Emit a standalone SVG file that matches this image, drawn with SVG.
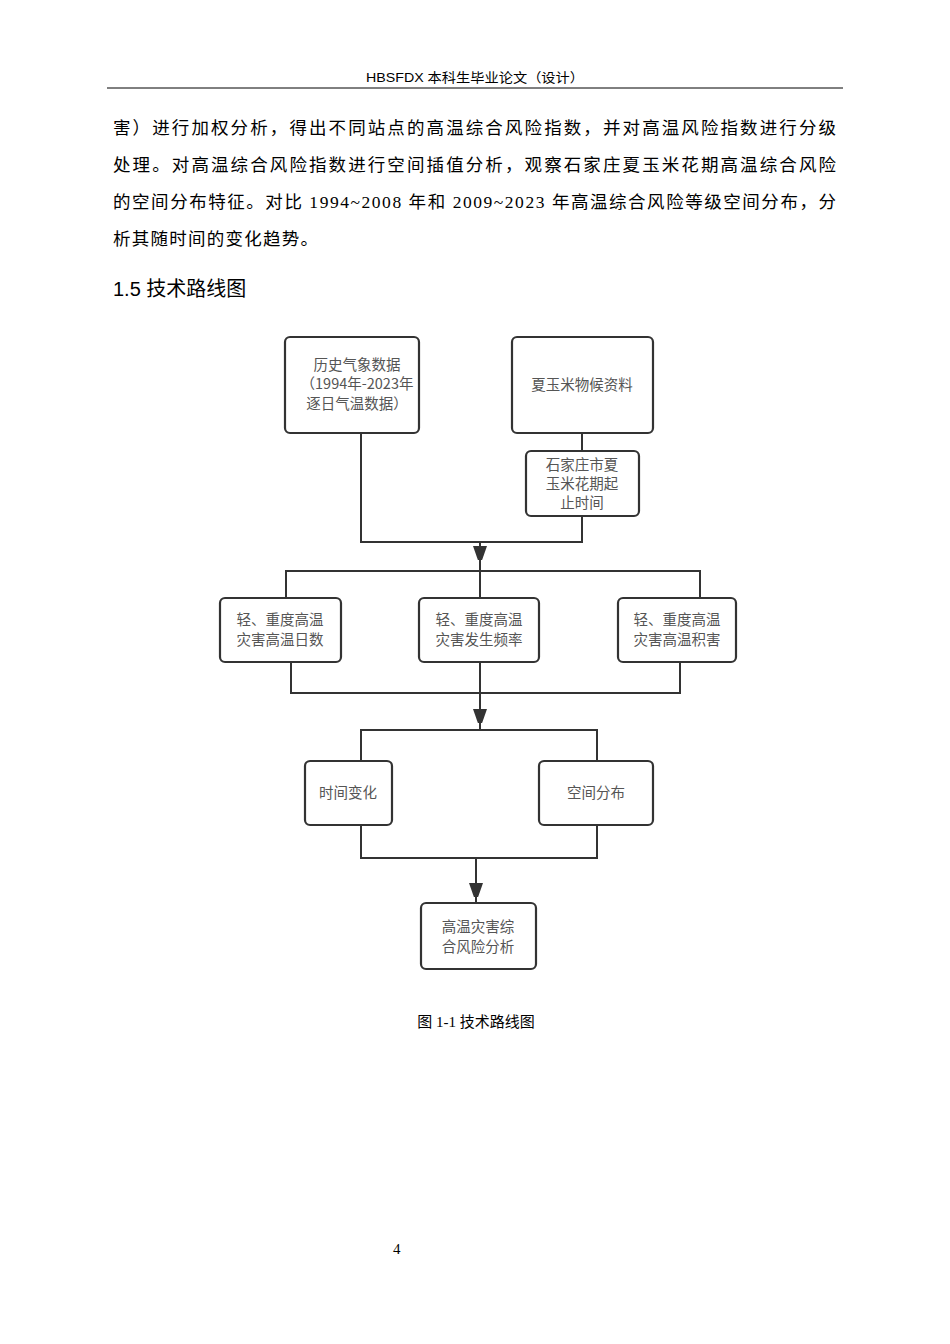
<svg xmlns="http://www.w3.org/2000/svg" width="950" height="1344" viewBox="0 0 950 1344">
<style>
.b{fill:#fff;stroke:#333;stroke-width:2.2}
.t{font-family:"Noto Sans CJK SC",sans-serif;font-size:14.5px;fill:#555;text-anchor:middle}
.p{font-family:"Liberation Serif","Noto Sans CJK SC",serif;font-size:17.5px;fill:#000}
.c{fill:none;stroke:#333;stroke-width:2}
</style>
<defs><marker id="a" markerWidth="14" markerHeight="20" refX="20" refY="7" orient="auto" markerUnits="userSpaceOnUse"><path d="M0,0 L20,7 L0,14 z" fill="#333"/></marker></defs>
<rect width="950" height="1344" fill="#fff"/>
<text x="475" y="82" text-anchor="middle" font-family="'Liberation Sans','Noto Sans CJK SC',sans-serif" font-size="13" textLength="218" lengthAdjust="spacingAndGlyphs">HBSFDX 本科生毕业论文（设计）</text>
<line x1="107" y1="88" x2="843" y2="88" stroke="#000" stroke-width="1"/>
<text class="p" x="113" y="134" textLength="723" lengthAdjust="spacing">害）进行加权分析，得出不同站点的高温综合风险指数，并对高温风险指数进行分级</text>
<text class="p" x="113" y="171" textLength="723" lengthAdjust="spacing">处理。对高温综合风险指数进行空间插值分析，观察石家庄夏玉米花期高温综合风险</text>
<text class="p" x="113" y="208" textLength="723" lengthAdjust="spacing">的空间分布特征。对比 1994~2008 年和 2009~2023 年高温综合风险等级空间分布，分</text>
<text class="p" x="113" y="245" textLength="205" lengthAdjust="spacing">析其随时间的变化趋势。</text>
<text x="113" y="296" font-family="'Liberation Sans','Noto Sans CJK SC',sans-serif" font-size="20">1.5  技术路线图</text>
<g id="connectors">
<polyline class="c" points="361,433 361,542 582,542 582,516"/>
<line class="c" x1="582" y1="433" x2="582" y2="451"/>
<line class="c" x1="480" y1="542" x2="480" y2="566" marker-end="url(#a)"/>
<polyline class="c" points="286,598 286,571 700,571 700,598"/>
<line class="c" x1="480" y1="566" x2="480" y2="598"/>
<polyline class="c" points="291,662 291,693 680,693 680,662"/>
<line class="c" x1="480" y1="662" x2="480" y2="729" marker-end="url(#a)"/>
<polyline class="c" points="361,761 361,730 597,730 597,761"/>
<polyline class="c" points="361,825 361,858 597,858 597,825"/>
<line class="c" x1="476" y1="858" x2="476" y2="903" marker-end="url(#a)"/>
</g>
<g id="n1"><rect class="b" x="285" y="337" width="134" height="96" rx="5"/><text class="t" x="357" y="370">历史气象数据</text><text class="t" x="357" y="389">（1994年-2023年</text><text class="t" x="357" y="409">逐日气温数据）</text></g>
<g id="n2"><rect class="b" x="512" y="337" width="141" height="96" rx="5"/><text class="t" x="582" y="390">夏玉米物候资料</text></g>
<g id="n3"><rect class="b" x="526" y="451" width="113" height="65" rx="5"/><text class="t" x="582" y="470">石家庄市夏</text><text class="t" x="582" y="489">玉米花期起</text><text class="t" x="582" y="508">止时间</text></g>
<g id="n4"><rect class="b" x="220" y="598" width="121" height="64" rx="5"/><text class="t" x="280" y="625">轻、重度高温</text><text class="t" x="280" y="645">灾害高温日数</text></g>
<g id="n5"><rect class="b" x="419" y="598" width="120" height="64" rx="5"/><text class="t" x="479" y="625">轻、重度高温</text><text class="t" x="479" y="645">灾害发生频率</text></g>
<g id="n6"><rect class="b" x="618" y="598" width="118" height="64" rx="5"/><text class="t" x="677" y="625">轻、重度高温</text><text class="t" x="677" y="645">灾害高温积害</text></g>
<g id="n7"><rect class="b" x="305" y="761" width="87" height="64" rx="5"/><text class="t" x="348" y="798">时间变化</text></g>
<g id="n8"><rect class="b" x="539" y="761" width="114" height="64" rx="5"/><text class="t" x="596" y="798">空间分布</text></g>
<g id="n9"><rect class="b" x="421" y="903" width="115" height="66" rx="5"/><text class="t" x="478" y="932">高温灾害综</text><text class="t" x="478" y="952">合风险分析</text></g>
<text x="476" y="1027" text-anchor="middle" font-family="'Liberation Serif','Noto Sans CJK SC',serif" font-size="15">图 1-1  技术路线图</text>
<text x="393" y="1254" font-family="'Liberation Serif',serif" font-size="15">4</text>
</svg>
